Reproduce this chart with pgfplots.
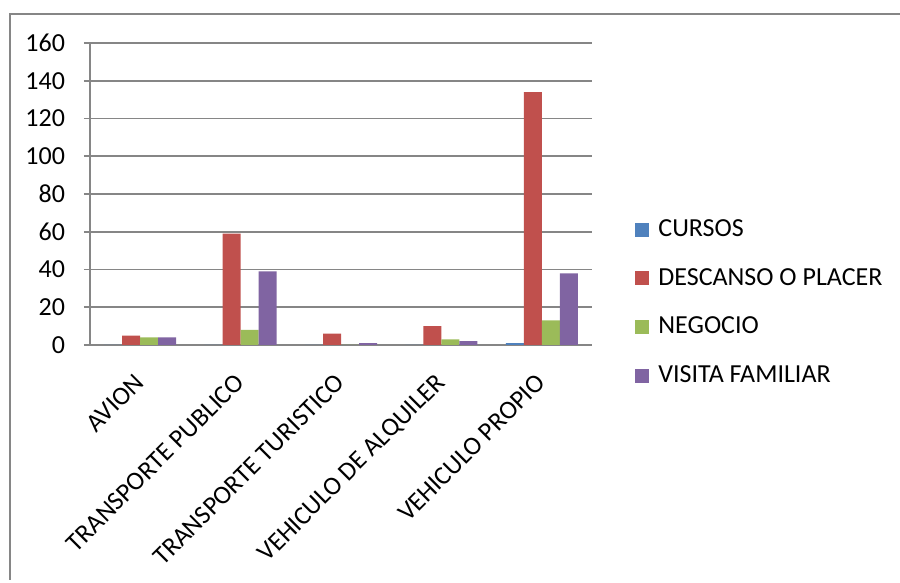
\documentclass[border=0pt]{standalone}
\usepackage{fontspec}
\setmainfont{Carlito}
\usepackage{pgfplots}
\pgfplotsset{compat=1.18}
\definecolor{cblue}{HTML}{4F81BD}
\definecolor{cred}{HTML}{C0504D}
\definecolor{cgreen}{HTML}{9BBB59}
\definecolor{cpurple}{HTML}{8064A2}
\definecolor{cgrid}{HTML}{868686}
\begin{document}
\fontsize{13}{15.6}\selectfont
\begin{tikzpicture}
\useasboundingbox (0,0) rectangle (450pt,291.5pt);
\draw[cgrid, line width=1pt] (5pt,1.5pt) -- (5pt,284.5pt) -- (450pt,284.5pt);
\begin{axis}[
  at={(45pt,119pt)}, anchor=south west,
  scale only axis, width=251pt, height=151pt,
  ybar=0pt, bar width=9pt,
  xmin=-0.5, xmax=4.5, ymin=0, ymax=160,
  ytick={0,20,...,160},
  xtick={0,1,2,3,4},
  xticklabels={AVION,TRANSPORTE PUBLICO,TRANSPORTE TURISTICO,VEHICULO DE ALQUILER,VEHICULO PROPIO},
  xticklabel style={rotate=45, anchor=north east, xshift=-5.5pt, yshift=-0.5pt},
  major x tick style={draw=none},
  extra x ticks={-0.5,0.5,1.5,2.5,3.5,4.5},
  extra x tick labels={},
  extra x tick style={grid=none, major tick length=4.5pt, tick style={cgrid, line width=0.8pt, draw=cgrid}},
  tick align=outside,
  major tick length=3pt,
  y tick style={cgrid, line width=0.8pt},
  axis x line*=bottom, axis y line*=left,
  axis line style={-, cgrid, line width=0.8pt},
  ymajorgrids, grid style={cgrid, line width=0.8pt},
  yticklabel style={xshift=-5pt},
  tick label style={font=\fontsize{13}{15.6}\selectfont},
  /pgf/number format/assume math mode=true,
  legend style={draw=none, fill=none, at={(1,0.139)}, anchor=west, xshift=21.5pt,
    inner sep=0pt, row sep=10pt, font=\fontsize{13}{15.6}\selectfont,
    /tikz/every even column/.append style={column sep=0pt}},
  legend cell align=left,
  legend image code/.code={\fill[#1] (0pt,-3.4pt) rectangle (7pt,3.6pt); \path (9.5pt,0pt);},
]
\addplot[fill=cblue, draw=none] coordinates {(0,0) (1,0) (2,0) (3,0) (4,1)};
\addplot[fill=cred, draw=none] coordinates {(0,5) (1,59) (2,6) (3,10) (4,134)};
\addplot[fill=cgreen, draw=none] coordinates {(0,4) (1,8) (2,0) (3,3) (4,13)};
\addplot[fill=cpurple, draw=none] coordinates {(0,4) (1,39) (2,1) (3,2) (4,38)};
\legend{CURSOS,DESCANSO O PLACER,NEGOCIO,VISITA FAMILIAR}
\end{axis}
\end{tikzpicture}
\end{document}
